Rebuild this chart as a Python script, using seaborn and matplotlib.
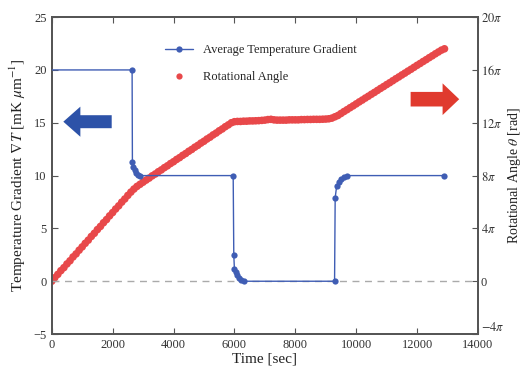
import numpy as np
import pandas as pd
import matplotlib
matplotlib.use("Agg")
import matplotlib.pyplot as plt
from matplotlib.patches import FancyArrow
from matplotlib.lines import Line2D
import seaborn as sns

# ---------- DATA ----------
# average temperature gradient [mK/um]
grad_time = [0, 2640, 2650, 2680, 2720, 2770, 2830, 2900, 5960, 5980, 6000, 6040, 6090,
             6150, 6230, 6330, 9290, 9310, 9360, 9420, 9500, 9600, 9700, 12900]
grad_val = [20.0, 20.0, 11.25, 10.8, 10.5, 10.25, 10.1, 10.0, 10.0, 2.45, 1.2, 0.9, 0.6,
            0.3, 0.1, 0.0, 0.0, 7.9, 9.05, 9.4, 9.7, 9.9, 10.0, 10.0]

# rotational angle, in units of pi, every 100 s
angle_time = list(range(0, 13000, 100))
angle_pi = [0.00, 0.27, 0.52, 0.80, 1.03, 1.31, 1.55, 1.84, 2.07, 2.35, 2.60, 2.87, 3.11, 3.39,
            3.63, 3.91, 4.15, 4.43, 4.67, 4.95, 5.20, 5.47, 5.71, 5.99, 6.23, 6.50, 6.75, 6.98,
            7.18, 7.34, 7.50, 7.66, 7.81, 7.98, 8.12, 8.29, 8.43, 8.60, 8.74, 8.91, 9.05, 9.22,
            9.36, 9.53, 9.67, 9.84, 9.98, 10.15, 10.29, 10.46, 10.60, 10.77, 10.91, 11.08, 11.22,
            11.39, 11.53, 11.70, 11.84, 12.00, 12.08, 12.10, 12.10, 12.12, 12.12, 12.14, 12.14,
            12.15, 12.16, 12.18, 12.20, 12.24, 12.26, 12.22, 12.20, 12.20, 12.20, 12.20, 12.22,
            12.22, 12.22, 12.22, 12.24, 12.24, 12.25, 12.25, 12.26, 12.26, 12.26, 12.27, 12.28,
            12.30, 12.35, 12.45, 12.55, 12.70, 12.85, 12.99, 13.14, 13.28, 13.43, 13.58, 13.72,
            13.87, 14.01, 14.16, 14.30, 14.45, 14.60, 14.74, 14.89, 15.03, 15.18, 15.33, 15.47,
            15.62, 15.76, 15.91, 16.05, 16.20, 16.35, 16.49, 16.64, 16.78, 16.93, 17.07, 17.22,
            17.36, 17.50, 17.60]

x_ticks = [0, 2000, 4000, 6000, 8000, 10000, 12000, 14000]
left_ticks = [-5, 0, 5, 10, 15, 20, 25]
right_ticks_pi = [-4, 0, 4, 8, 12, 16, 20]
right_tick_labels = [r"$-4\pi$", "0", r"$4\pi$", r"$8\pi$", r"$12\pi$", r"$16\pi$", r"$20\pi$"]
# ---------------------------

BLUE = "#3f5db4"
RED = "#e8484a"

grad = pd.DataFrame({"time": grad_time, "gradient": grad_val})
angle = pd.DataFrame({"time": angle_time, "theta": np.array(angle_pi) * np.pi})

sns.set_style("ticks")
plt.rcParams["font.family"] = ["Liberation Serif", "DejaVu Serif"]
plt.rcParams["mathtext.fontset"] = "stix"

fig = plt.figure(figsize=(5.23, 3.72), dpi=100)
ax = fig.add_axes([0.0989, 0.102, 0.815, 0.852])
ax2 = ax.twinx()

ax.axhline(0, color="#aaaaaa", ls=(0, (5, 4)), lw=1.0, zorder=1)

sns.scatterplot(data=angle, x="time", y="theta", ax=ax2, color=RED, s=30,
                edgecolor="none", linewidth=0, zorder=2)
sns.lineplot(data=grad, x="time", y="gradient", ax=ax, color=BLUE, lw=1.0,
             marker="o", markersize=4.5, markeredgewidth=0, sort=False,
             estimator=None, markevery=list(range(1, len(grad_time))), zorder=3)

# blue axis above red one
ax.set_zorder(ax2.get_zorder() + 1)
ax.patch.set_visible(False)

ax.set_xlim(0, 14000)
ax.set_ylim(-5, 25)
ax2.set_ylim(-4 * np.pi, 20 * np.pi)
ax.set_xticks(x_ticks)
ax.set_yticks(left_ticks)
ax2.set_yticks(np.array(right_ticks_pi) * np.pi)
ax2.set_yticklabels(right_tick_labels)
ax2.get_yticklabels()[0].set_verticalalignment("bottom")

for a in (ax, ax2):
    a.tick_params(direction="in", labelsize=9, labelcolor="#333333", color="#555555",
                  length=4, width=0.8)
    for s in a.spines.values():
        s.set_linewidth(1.3)
        s.set_color("#555555")
ax.tick_params(top=True)
ax2.tick_params(pad=2)

ax.set_xlabel("Time [sec]", fontsize=11, color="#222222", labelpad=1)
ax.set_ylabel(r"Temperature Gradient $\nabla T$ [mK $\mu$m$^{-1}$]", fontsize=11,
              color="#222222", labelpad=4)
ax2.set_ylabel(r"Rotational Angle $\theta$ [rad]", fontsize=10, color="#222222", labelpad=1)

# arrows pointing at each axis
ax.add_patch(FancyArrow(0.1407, 0.670, -0.0735, 0, width=0.041, head_width=0.095,
                        head_length=0.04, length_includes_head=False,
                        transform=ax.transAxes, color="#2d52a8", lw=0, zorder=5))
ax.add_patch(FancyArrow(0.842, 0.741, 0.075, 0, width=0.046, head_width=0.10,
                        head_length=0.039, length_includes_head=False,
                        transform=ax.transAxes, color="#e03a2e", lw=0, zorder=5))

handles = [Line2D([], [], color=BLUE, lw=1.0, marker="o", markersize=4.5, markeredgewidth=0),
           Line2D([], [], color=RED, lw=0, marker="o", markersize=4.5, markeredgewidth=0)]
ax.legend(handles, ["Average Temperature Gradient", "Rotational Angle"],
          loc="upper left", bbox_to_anchor=(0.24, 0.95), frameon=False, fontsize=9,
          labelspacing=1.2, handlelength=2.2, numpoints=1)

fig.savefig("out.png", dpi=100)
